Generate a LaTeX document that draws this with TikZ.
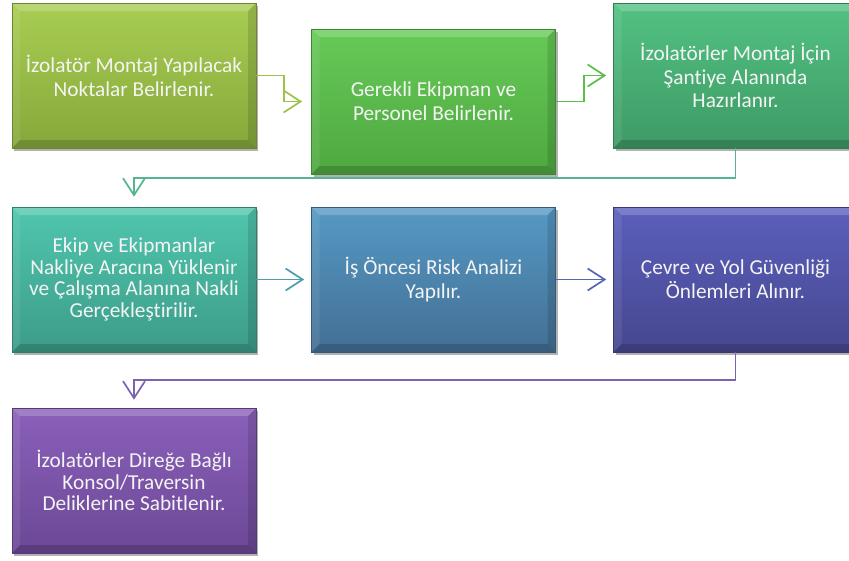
\documentclass[tikz,border=0pt]{standalone}
\usepackage{fontspec}
\setmainfont{Carlito}[Ligatures=NoCommon]
\usetikzlibrary{arrows.meta,shadows}

\definecolor{c1t}{HTML}{A8CD52}\definecolor{c1b}{HTML}{86A83B}
\definecolor{c2t}{HTML}{66CA57}\definecolor{c2b}{HTML}{4FA840}
\definecolor{c3t}{HTML}{52C282}\definecolor{c3b}{HTML}{3E9A65}
\definecolor{c4t}{HTML}{50C6AE}\definecolor{c4b}{HTML}{3C9C88}
\definecolor{c5t}{HTML}{5599C4}\definecolor{c5b}{HTML}{436F94}
\definecolor{c6t}{HTML}{5B5FBC}\definecolor{c6b}{HTML}{46478F}
\definecolor{c7t}{HTML}{8A60BA}\definecolor{c7b}{HTML}{6C4896}
\definecolor{a1}{HTML}{9BC348}
\definecolor{a2}{HTML}{5DBD4C}
\definecolor{a3}{HTML}{55B58F}
\definecolor{a4}{HTML}{4C9DAF}
\definecolor{a5}{HTML}{5766AE}
\definecolor{a6}{HTML}{7D62B0}
\definecolor{txt}{HTML}{F4F4F4}

\tikzset{
  box/.style={minimum width=244pt, minimum height=145pt, inner sep=0pt,
    align=center, text=txt, font=\fontsize{21.3}{24}\selectfont,
    top color=#1t, bottom color=#1b, draw=#1b!80!black, line width=0.6pt,
    drop shadow={shadow xshift=2pt, shadow yshift=-3pt, opacity=0.3, fill=black},
    path picture={
      \fill[white,opacity=0.2] (path picture bounding box.north west) -- (path picture bounding box.north east)
        -- ([shift={(-8pt,-8pt)}]path picture bounding box.north east) -- ([shift={(8pt,-8pt)}]path picture bounding box.north west) -- cycle;
      \fill[white,opacity=0.08] (path picture bounding box.north west) -- (path picture bounding box.south west)
        -- ([shift={(8pt,8pt)}]path picture bounding box.south west) -- ([shift={(8pt,-8pt)}]path picture bounding box.north west) -- cycle;
      \fill[black,opacity=0.12] (path picture bounding box.north east) -- (path picture bounding box.south east)
        -- ([shift={(-8pt,8pt)}]path picture bounding box.south east) -- ([shift={(-8pt,-8pt)}]path picture bounding box.north east) -- cycle;
      \fill[black,opacity=0.16] (path picture bounding box.south west) -- (path picture bounding box.south east)
        -- ([shift={(-8pt,8pt)}]path picture bounding box.south east) -- ([shift={(8pt,8pt)}]path picture bounding box.south west) -- cycle;
    }},
  conn/.style={draw=#1, line width=1.7pt, -{Straight Barb[length=17pt,width=22pt]}}
}

\begin{document}
\begin{tikzpicture}[x=1pt,y=-1pt]
\clip (0,0) rectangle (849,560);
\fill[white] (0,0) rectangle (849,560);

\node[box=c1] (b1) at (134,75.5) {İzolatör Montaj Yapılacak\\Noktalar Belirlenir.};
\node[box=c2] (b2) at (433.5,101.5) {Gerekli Ekipman ve\\Personel Belirlenir.};
\node[box=c3, font=\fontsize{21.3}{23.4}\selectfont] (b3) at (735.5,75.5) {İzolatörler Montaj İçin\\Şantiye Alanında\\Hazırlanır.};
\node[box=c4, font=\fontsize{21.3}{21.7}\selectfont] (b4) at (134,279.5) {Ekip ve Ekipmanlar\\Nakliye Aracına Yüklenir\\ve Çalışma Alanına Nakli\\Gerçekleştirilir.};
\node[box=c5] (b5) at (433.5,279.5) {İş Öncesi Risk Analizi\\Yapılır.};
\node[box=c6] (b6) at (735.5,279.5) {Çevre ve Yol Güvenliği\\Önlemleri Alınır.};
\node[box=c7, font=\fontsize{21.3}{21.2}\selectfont] (b7) at (134,480.5) {İzolatörler Direğe Bağlı\\Konsol/Traversin\\Deliklerine Sabitlenir.};

\draw[conn=a1] (b1.east) -- ++(28,0) |- ([xshift=-9pt]b2.west);
\draw[conn=a2] (b2.east) -- ++(28,0) |- ([xshift=-7pt]b3.west);
\draw[conn=a3] (b3.south) -- ++(0,30) -| ([yshift=10pt]b4.north);
\draw[conn=a4] (b4.east) -- ([xshift=-7pt]b5.west);
\draw[conn=a5] (b5.east) -- ([xshift=-7pt]b6.west);
\draw[conn=a6] (b6.south) -- ++(0,28) -| ([yshift=8pt]b7.north);
\end{tikzpicture}
\end{document}
